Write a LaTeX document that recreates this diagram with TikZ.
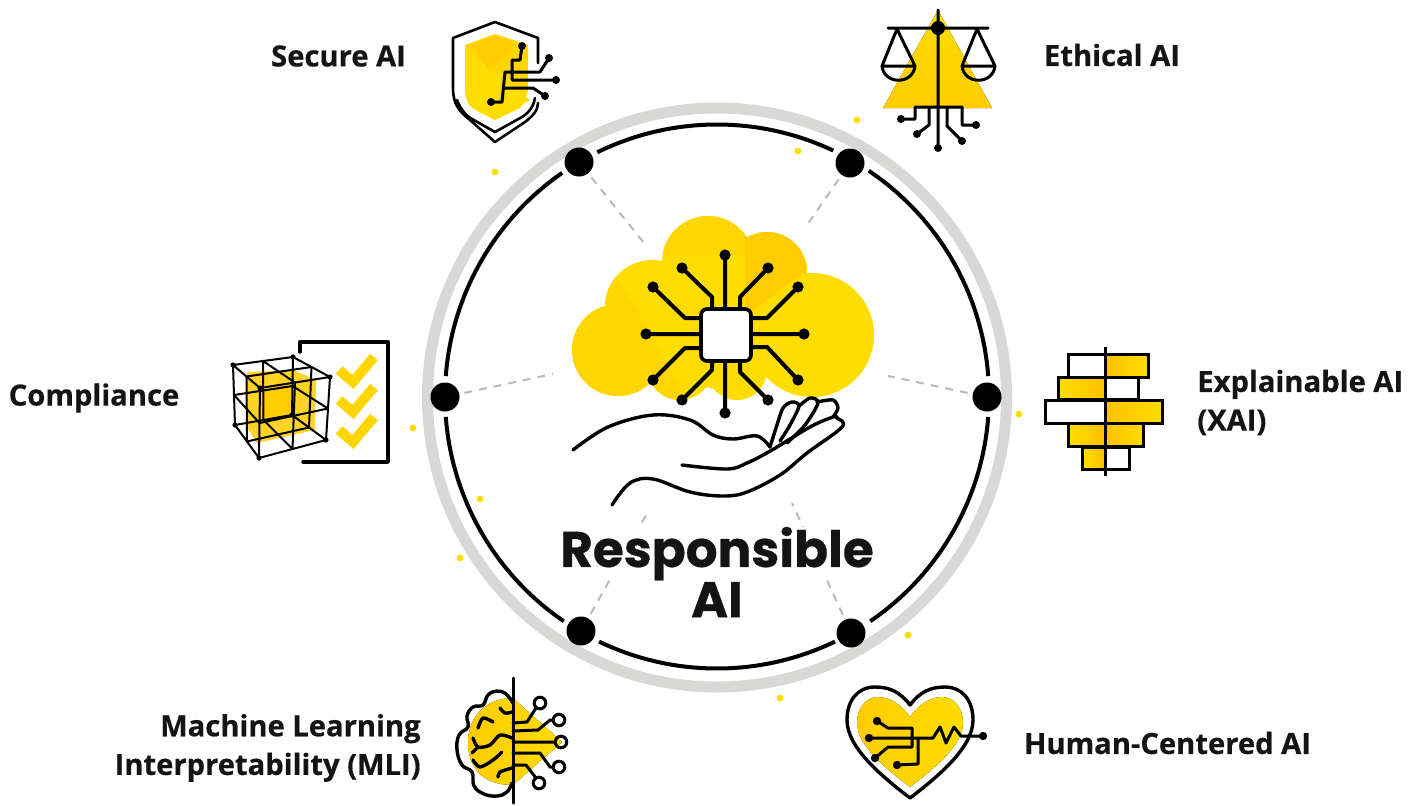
\documentclass[tikz,border=0pt]{standalone}
\usepackage{fontspec}
\setmainfont{Open Sans}[BoldFeatures={FakeBold=0.5}]
\newfontfamily\headfont{Poppins}[BoldFeatures={FakeBold=0.5}]
\usetikzlibrary{calc}
\definecolor{myyellow}{RGB}{255,221,0}
\definecolor{mydeepyellow}{RGB}{255,204,0}
\definecolor{mymidyellow}{RGB}{255,214,0}
\definecolor{myringgray}{RGB}{216,216,214}
\definecolor{myspokegray}{RGB}{185,185,185}
\definecolor{mytext}{RGB}{20,20,20}
\newcommand{\unitpx}{0.02cm}
\newcommand{\lobe}[3]{(#1,#2) circle[radius=#3*\unitpx]}
\newcommand{\cloudpath}{\lobe{618}{350}{46} \lobe{652}{307}{47} \lobe{708}{262}{46} \lobe{767}{272}{40} \lobe{812}{335}{62} \lobe{680}{367}{33} \lobe{737}{370}{30} \lobe{725}{335}{55}}
\tikzset{
    x=\unitpx, y=-\unitpx,
    ringdot/.style={circle, fill=black, inner sep=0pt, minimum size=29*\unitpx},
    spoke/.style={draw=myspokegray, line width=2*\unitpx, dash pattern=on 4.5pt off 4pt, shorten <=5*\unitpx},
    sidelabel/.style={font=\fontsize{16.6}{22}\selectfont\bfseries, text=mytext, inner sep=0pt},
    mainlabel/.style={font=\headfont\fontsize{28.5}{27}\selectfont\bfseries, text=mytext, inner sep=0pt, align=center},
    wire/.style={draw=black, line width=3*\unitpx, line join=round, line cap=round},
    thickwire/.style={draw=black, line width=4*\unitpx, line join=round, line cap=round},
    sketch/.style={draw=black, line width=3.4*\unitpx, line join=round, line cap=round},
    thinline/.style={draw=black, line width=2*\unitpx, line join=round},
    checkmark/.style={draw=mymidyellow, line width=10*\unitpx, line join=miter},
    bar/.style={draw=black, line width=3*\unitpx}
}
\begin{document}
\begin{tikzpicture}
    \useasboundingbox (0,0) rectangle (1422,805);
    \coordinate (hub) at (717,396.5);

    % cloud
    \begin{scope}
        \clip \cloudpath;
        \fill[myyellow] (550,190) rectangle (890,420);
        \fill[mymidyellow] (560,420) -- (560,250) -- (617,277) -- (680,387) -- (680,420) -- cycle;
        \fill[mymidyellow] (660,200) rectangle (745,255);
        \fill[mydeepyellow] (745,220) -- (810,220) -- (808,270) -- (745,315) -- cycle;
    \end{scope}

    % circuit on the cloud
    \draw[thickwire]
        (725,255) -- (725,309) (725,361) -- (725,413)
        (646,334) -- (701,334) (751,334) -- (804,334)
        (682,268) -- (712,297) -- (712,309)
        (768,268) -- (740,297) -- (740,309)
        (653,287) -- (685,318) -- (701,318)
        (798,287) -- (767,318) -- (751,318)
        (653,380) -- (685,348) -- (701,348)
        (798,380) -- (767,347) -- (751,347)
        (682,400) -- (712,370) -- (712,361)
        (768,400) -- (740,372) -- (740,361);
    \foreach \x/\y in {725/255,725/413,646/334,804/334,682/268,768/268,653/287,798/287,653/380,798/380,682/400,768/400}
        \fill (\x,\y) circle[radius=5.6*\unitpx];
    \draw[fill=white, line width=3.6*\unitpx, rounded corners=6*\unitpx] (701,309) rectangle (751,361);

    % hand
    \draw[sketch] plot[smooth, tension=.6] coordinates {(573,450) (608,427) (653,415) (690,420) (713,435) (733,439) (757,436) (770,447)};
    \draw[sketch] plot[smooth, tension=.6] coordinates {(682,465) (727,469) (747,463) (772,450) (810,427) (833,417) (837,418) (842,427) (807,453) (780,475) (747,492) (723,496) (690,492) (653,479) (630,483) (612,505)};
    \draw[sketch] plot[smooth, tension=.5] coordinates {(770,447) (776,428) (783,408) (792,402) (799,406) (790,425) (780,441)};
    \draw[sketch] plot[smooth, tension=.5] coordinates {(798,407) (810,398) (818,403) (805,425) (787,443)};
    \draw[sketch] plot[smooth, tension=.5] coordinates {(817,402) (833,400) (838,408) (833,417)};

    % ring
    \foreach \s/\e in {4.3/56.1, 64.7/116.1, 124.7/175.7, 184.3/235.7, 244.3/295.7, 304.3/355.7}
        \draw[line width=4*\unitpx] ([shift={(\s:272*\unitpx)}]hub) arc[start angle=\s, end angle=\e, radius=272*\unitpx];
    \draw[myringgray, line width=11*\unitpx] (717,397.5) circle[radius=289.5*\unitpx];

    \node[ringdot] (dotSecure) at (579,162) {};
    \node[ringdot] (dotEthical) at (850,163) {};
    \node[ringdot] (dotExplain) at (987,397) {};
    \node[ringdot] (dotHuman) at (851,633) {};
    \node[ringdot] (dotMachine) at (581,631) {};
    \node[ringdot] (dotComply) at (445,397) {};

    \coordinate (cloudSecure) at (644,243);
    \coordinate (cloudEthical) at (807,225);
    \coordinate (cloudExplain) at (888,376);
    \coordinate (cloudHuman) at (792,503);
    \coordinate (cloudMachine) at (649,510);
    \coordinate (cloudComply) at (553,374);
    \foreach \n in {Secure, Ethical, Explain, Human, Machine, Comply}
        \draw[spoke] (dot\n) -- (cloud\n);

    % title
    \fill[white] (555,527) rectangle (878,578);
    \node[mainlabel] (respLabel) at (717,572) {Responsible\\AI};

    % sparks
    \foreach \x/\y in {495/172,857/120,798/151,1019/414,413/428,480/499,460/558,908/635,780/698}
        \fill[myyellow] (\x,\y) circle[radius=3.4*\unitpx];

    % secure
    \fill[mymidyellow] (465,45) -- (495,34) -- (528,45) -- (528,90) .. controls (526,100) and (522,106) .. (520,108) -- (495,120) -- (472,108) .. controls (468,104) and (465,98) .. (465,90) -- cycle;
    \fill[myyellow] (465,45) -- (490,70) -- (530,100) -- (495,120) -- (472,108) -- (465,90) -- cycle;
    \fill[mydeepyellow] (470,46) -- (495,36) -- (515,44) -- (490,70) -- cycle;
    \draw[sketch, line width=2.6*\unitpx] (538,63) -- (538,38) -- (495,22) -- (453,38) -- (453,88) .. controls (453,105) and (460,112) .. (470,120) -- (495,142) -- (525,122) .. controls (533,116) and (538,110) .. (538,103);
    \draw[sketch, line width=2.6*\unitpx] (457,100) .. controls (460,108) and (466,116) .. (472,119) -- (495,132) -- (522,117) .. controls (530,112) and (534,105) .. (535,98);
    \draw[wire] (522,46) -- (520,60) -- (512,60) -- (512,80) -- (556,80)
        (491,102) -- (502,102) -- (505,72) -- (540,72) -- (549,58)
        (505,88) -- (533,88) -- (545,96);
    \foreach \x/\y in {522/46,556/80,491/102,549/58,545/96}
        \fill (\x,\y) circle[radius=4*\unitpx];
    \node[sidelabel] (secureLabel) at (338.5,56) {Secure AI};

    % ethical
    \fill[top color=myyellow, middle color=myyellow, bottom color=mydeepyellow] (938,10) -- (992,108) -- (883,108) -- cycle;
    \draw[wire] (938,10) -- (938,148) (888,28) -- (988,28)
        (915,119) -- (915,107) -- (962,107) -- (962,125) -- (976,125)
        (915,119) -- (901,119)
        (929,108) -- (929,125) -- (917,134)
        (947,108) -- (947,126) -- (962,141);
    \draw[wire] (897,29) -- (882,66) -- (915,66) -- cycle
        (882,66) .. controls (884,85) and (913,85) .. (915,66);
    \draw[wire] (977,29) -- (962,66) -- (995,66) -- cycle
        (962,66) .. controls (964,85) and (993,85) .. (995,66);
    \fill (938,28) circle[radius=7*\unitpx];
    \foreach \x/\y in {938/148,901/119,976/125,917/134,962/141}
        \fill (\x,\y) circle[radius=4*\unitpx];
    \node[sidelabel] (ethicalLabel) at (1112,55) {Ethical AI};

    % compliance
    \draw[sketch] (300,352) -- (300,342) -- (388,342) -- (388,462) -- (303,462);
    \foreach \y in {370,400,430}
        \draw[checkmark] (339,\y) -- (353,\y+12) -- (374,\y-13);
    \fill[mydeepyellow!85!white] (247,372) -- (293,370) -- (316,380) -- (315,430) -- (257,443) -- (247,427) -- cycle;
    \fill[mydeepyellow] (262,388) -- (293,387) -- (293,415) -- (262,423) -- cycle;
    \coordinate (c0) at (233,365);
    \coordinate (c1) at (293,357);
    \coordinate (c2) at (330,377);
    \coordinate (c3) at (260,388);
    \coordinate (c4) at (235,425);
    \coordinate (c5) at (292,415);
    \coordinate (c6) at (326,440);
    \coordinate (c7) at (259,458);
    \draw[thinline] (c0) -- (c1) -- (c2) -- (c3) -- cycle (c4) -- (c5) -- (c6) -- (c7) -- cycle
        (c0) -- (c4) (c1) -- (c5) (c2) -- (c6) (c3) -- (c7);
    \foreach \a/\b/\c/\d/\e/\f/\g/\h in {c0/c4/c1/c5/c2/c6/c3/c7, c0/c1/c3/c2/c7/c6/c4/c5, c0/c3/c1/c2/c5/c6/c4/c7}
        \draw[thinline] ($(\a)!.5!(\b)$) -- ($(\c)!.5!(\d)$) -- ($(\e)!.5!(\f)$) -- ($(\g)!.5!(\h)$) -- cycle;
    \foreach \x/\y in {233/365,293/357,330/377,260/388,235/425,292/415,326/440,259/458}
        \fill (\x,\y) circle[radius=2.6*\unitpx];
    \node[sidelabel] (complyLabel) at (94,398) {Compliance};

    % explainable
    \foreach \l/\r/\t/\b/\cl/\cr in {1068/1148/354/377/0/1, 1058/1138/377/399/1/0, 1045/1162/400/423/0/1, 1068/1143/423/446/1/1, 1082/1129/447/469/1/0} {
        \ifnum\cl=1
            \fill[left color=myyellow, right color=mydeepyellow!85!orange] (\l,\t) rectangle (1105,\b);
        \fi
        \ifnum\cr=1
            \fill[left color=mydeepyellow!85!orange, right color=myyellow] (1105,\t) rectangle (\r,\b);
        \fi
        \draw[bar] (\l,\t) rectangle (\r,\b);
    }
    \draw[bar] (1105,347) -- (1105,476);
    \node[sidelabel, align=left, anchor=west] (explainLabel) at (1197,402.5) {Explainable AI\\(XAI)};

    % machine learning
    \fill[left color=mydeepyellow, right color=myyellow] (513,698) -- (562,742) -- (513,785) .. controls (480,785) and (468,765) .. (468,742) .. controls (468,718) and (485,698) .. (513,698) -- cycle;
    \draw[sketch] plot[smooth, tension=.7] coordinates {(513,703) (506,694) (497,691) (488,695) (483,705) (473,707) (467,716) (468,727) (459,735) (457,750) (462,765) (472,772) (474,786) (484,794) (497,796) (507,792) (512,783)};
    \draw[sketch] plot[smooth, tension=.6] coordinates {(500,708) (505,713) (512,712)};
    \draw[sketch] plot[smooth, tension=.5] coordinates {(478,728) (483,718) (493,722)};
    \draw[sketch] plot[smooth, tension=.5] coordinates {(512,738) (500,735) (490,745) (478,747) (473,738)};
    \draw[sketch] (478,747) -- (472,753);
    \draw[sketch] plot[smooth, tension=.5] coordinates {(502,752) (493,760) (480,767) (473,760)};
    \draw[sketch] plot[smooth, tension=.5] coordinates {(512,768) (500,772) (498,777)};
    \draw[wire] (513,723) -- (527,722) -- (536,708)
        (513,731) -- (538,730) -- (550,720) -- (553,720)
        (513,742) -- (555,742)
        (513,753) -- (540,753) -- (550,767) -- (553,767)
        (513,765) -- (526,765) -- (536,778);
    \foreach \x/\y in {540/703,559/720,561/742,559/767,539/783}
        \draw[wire] (\x,\y) circle[radius=5.8*\unitpx];
    \draw[wire] (513,678) -- (513,803);
    \node[sidelabel, align=right, anchor=east] (machineLabel) at (421,748) {Machine Learning\\Interpretability (MLI)};

    % human centered
    \fill[left color=mydeepyellow, middle color=myyellow, right color=myyellow] (910,717) .. controls (902,705) and (890,697) .. (878,697) .. controls (866,697) and (857,708) .. (857,723) .. controls (857,745) and (885,768) .. (910,787) .. controls (935,768) and (963,745) .. (963,723) .. controls (963,708) and (954,697) .. (942,697) .. controls (930,697) and (918,705) .. (910,717) -- cycle;
    \draw[sketch] (910,705) .. controls (900,692) and (890,687) .. (875,687) .. controls (858,687) and (847,700) .. (847,720) .. controls (847,747) and (880,775) .. (910,798) .. controls (940,775) and (973,747) .. (973,720) .. controls (973,700) and (962,687) .. (945,687) .. controls (930,687) and (920,692) .. (910,705) -- cycle;
    \draw[wire] (877,721) -- (888,728) -- (912,728) -- (912,747) -- (888,747) -- (875,758)
        (869,738) -- (933,738) -- (940,727) -- (946,743) -- (954,727) -- (961,736) -- (983,736)
        (897,765) -- (918,764) -- (918,740);
    \foreach \x/\y in {877/721,869/738,875/758,897/765,983/736}
        \fill (\x,\y) circle[radius=4.2*\unitpx];
    \node[sidelabel] (humanLabel) at (1167.5,743) {Human-Centered AI};
\end{tikzpicture}
\end{document}
